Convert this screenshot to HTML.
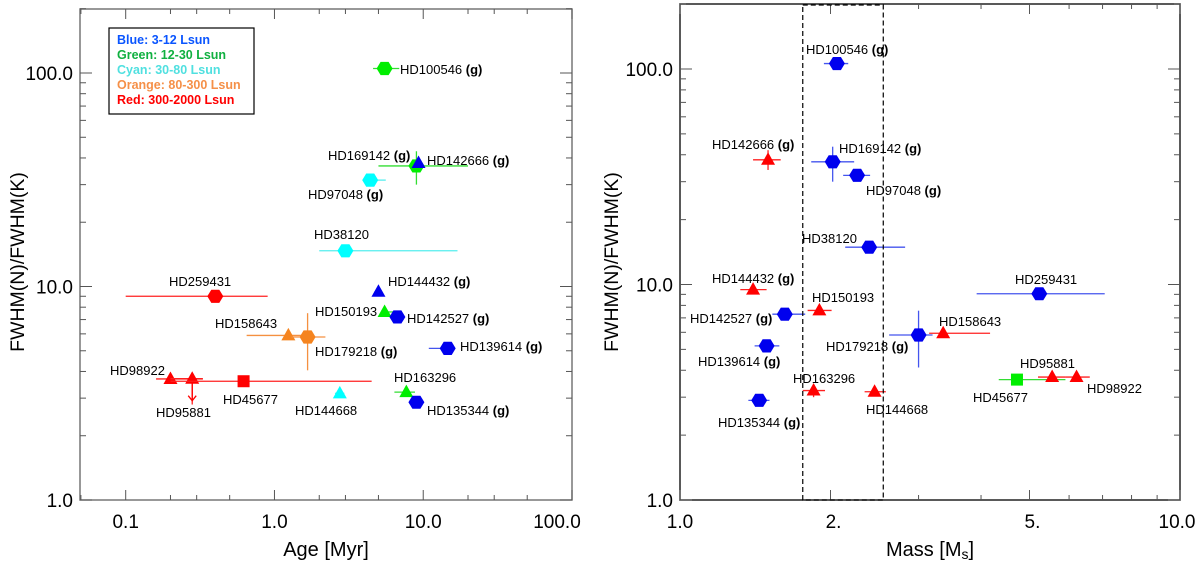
<!DOCTYPE html>
<html><head><meta charset="utf-8">
<style>
html,body{margin:0;padding:0;background:#fff;}
svg{display:block;font-family:"Liberation Sans",Arial,sans-serif;}
</style></head>
<body>
<svg id="chart" width="1200" height="585" viewBox="0 0 1200 585" xmlns="http://www.w3.org/2000/svg">
<g id="left"></g>
<g id="right"></g>
<g>
<rect x="109" y="28" width="145" height="86" fill="#fff" stroke="#000" stroke-width="1.2"/>
<g font-size="12.5" font-weight="bold">
<text x="117" y="44" fill="#0a55ff">Blue: 3-12 Lsun</text>
<text x="117" y="59" fill="#10b040">Green: 12-30 Lsun</text>
<text x="117" y="74" fill="#50e0e0">Cyan: 30-80 Lsun</text>
<text x="117" y="89" fill="#f59048">Orange: 80-300 Lsun</text>
<text x="117" y="104" fill="#ff0000">Red: 300-2000 Lsun</text>
</g></g>
</svg>
<script>
// ---- Left panel data (Age) ----
const leftNames = ["HD100546","HD169142","HD142666","HD97048","HD38120","HD259431","HD144432","HD150193","HD142527","HD158643","HD179218","HD139614","HD98922","HD95881","HD45677","HD144668","HD163296","HD135344"];
const leftAge = [5.5,9.0,9.3,4.4,3.0,0.40,5.0,5.5,6.7,1.24,1.67,14.6,0.20,0.28,0.62,2.75,7.7,9.0];
const leftAgeLo = [4.6,5.0,9.3,4.4,2.0,0.10,4.7,5.2,6.7,0.65,1.3,10.9,0.16,0.20,0.2,2.55,6.4,9.0];
const leftAgeHi = [6.9,20,9.3,5.6,17,0.90,5.2,6.4,6.7,1.55,2.2,14.6,0.33,0.33,4.5,2.95,8.8,9.0];
const leftRatio = [105,36.7,37.9,31.5,14.7,9.0,9.45,7.6,7.2,5.9,5.8,5.13,3.69,3.7,3.6,3.16,3.2,2.87];
const leftRatioLo = [105,30,37.9,31.5,14.7,9.0,9.45,7.6,7.2,5.9,4.05,5.13,3.69,2.8,3.6,3.16,3.2,2.87];
const leftRatioHi = [105,43,37.9,31.5,14.7,9.0,9.45,7.6,7.2,5.9,7.5,5.13,3.69,3.7,3.6,3.16,3.2,2.87];
const leftColor = ["green","green","blue","cyan","cyan","red","blue","green","blue","orange","orange","blue","red","red","red","cyan","green","blue"];
const leftShape = ["hex","hex","tri","hex","hex","hex","tri","tri","hex","tri","hex","hex","tri","tri","sq","tri","tri","hex"];
const leftGas = [1,1,1,1,0,0,1,0,1,0,1,1,0,0,0,0,0,1];
const leftLabelX = [400,328,427,308,314,169,388,315,407,215,315,460,110,156,223,295,394,427];
const leftLabelY = [69,155,160,194,234,281,281,311,318,323,351,346,370,412,399,410,377,410];
const leftXTicks = [0.1,1,10,100];
const leftXTickLabels = ["0.1","1.0","10.0","100.0"];
// ---- Right panel data (Mass) ----
const rightNames = ["HD100546","HD142666","HD169142","HD97048","HD38120","HD144432","HD259431","HD150193","HD142527","HD158643","HD179218","HD139614","HD45677","HD95881","HD98922","HD163296","HD144668","HD135344"];
const rightMass = [2.06,1.50,2.02,2.26,2.39,1.40,5.23,1.90,1.62,3.36,3.00,1.49,4.72,5.55,6.21,1.85,2.45,1.44];
const rightMassLo = [1.94,1.40,1.83,2.12,2.14,1.32,3.92,1.80,1.53,3.15,2.62,1.41,4.34,5.2,5.9,1.76,2.34,1.37];
const rightMassHi = [2.17,1.59,2.23,2.40,2.82,1.49,7.07,2.01,1.78,4.17,3.20,1.58,5.90,5.9,6.6,1.95,2.58,1.51];
const rightRatio = [106,37.9,37.1,32.1,14.9,9.47,9.06,7.58,7.28,5.94,5.83,5.19,3.62,3.72,3.72,3.22,3.18,2.9];
const rightRatioLo = [106,34,30,30.5,14.9,9.47,9.06,7.58,7.28,5.94,4.12,5.19,3.62,3.72,3.72,3.0,3.18,2.75];
const rightRatioHi = [106,42,43.6,33.5,14.9,9.47,9.06,7.58,7.28,5.94,7.56,5.19,3.62,3.72,3.72,3.4,3.18,3.0];
const rightColor = ["blue","red","blue","blue","blue","red","blue","red","blue","red","blue","blue","green","red","red","red","red","blue"];
const rightShape = ["hex","tri","hex","hex","hex","tri","hex","tri","hex","tri","hex","hex","sq","tri","tri","tri","tri","hex"];
const rightGas = [1,1,1,1,0,1,0,0,1,0,1,1,0,0,0,0,0,1];
const rightLabelX = [806,712,839,866,802,712,1015,812,690,939,826,698,973,1020,1087,793,866,718];
const rightLabelY = [49,144,148,190,238,278,279,297,318,321,346,361,397,363,388,378,409,422];
const rightXTicks = [1,2,5,10];
const rightXTickLabels = ["1.0","2.","5.","10.0"];
const yTicks = [1,10,100];
const yTickLabels = ["1.0","10.0","100.0"];
const boxMass = [1.76,2.55];

const NS="http://www.w3.org/2000/svg";
const COL={green:"#00ee00",blue:"#0000ee",cyan:"#00ffff",orange:"#f5841f",red:"#ff0000"};
const ECOL={green:"#33dd33",blue:"#4455ee",cyan:"#55eeee",orange:"#f59040",red:"#ff2020"};
function mk(parent,tag,attrs){const e=document.createElementNS(NS,tag);for(const k in attrs)e.setAttribute(k,attrs[k]);parent.appendChild(e);return e;}
function logScale(d0,d1,r0,r1){const a=Math.log10(d0),b=Math.log10(d1);return v=>r0+(Math.log10(v)-a)/(b-a)*(r1-r0);}

function panel(g,cfg){
  const {x0,x1,y0,y1,xs,ys}=cfg;
  const fr=mk(g,"rect",{x:x0,y:y0,width:x1-x0,height:y1-y0,fill:"none",stroke:cfg.frame,"stroke-width":1.5});
  
  
  const xMinD=Math.floor(Math.log10(cfg.xd[0])),xMaxD=Math.ceil(Math.log10(cfg.xd[1]));
  for(let d=xMinD;d<=xMaxD;d++)for(let m=1;m<10;m++){const v=m*Math.pow(10,d);if(v<cfg.xd[0]||v>cfg.xd[1])continue;
    if(cfg.xMinors.indexOf(m)<0)continue;
    const px=xs(v);const major=cfg.xTicks.some(t=>Math.abs(t-v)/v<1e-6);const L=major?10:5;
    mk(g,"line",{x1:px,y1:y1,x2:px,y2:y1-L,stroke:"#555","stroke-width":1});
    mk(g,"line",{x1:px,y1:y0,x2:px,y2:y0+L,stroke:"#555","stroke-width":1});}
  cfg.xTicks.forEach((t,i)=>{const tx=mk(g,"text",{x:xs(t)+(cfg.xLabOff[i]||0),y:y1+28,"font-size":19,"text-anchor":"middle",fill:"#000"});tx.textContent=cfg.xTickLabels[i];
    
    });
  for(let d=0;d<=2;d++)for(let m=1;m<10;m++){const v=m*Math.pow(10,d);if(v>cfg.yd[1])continue;
    const py=ys(v);const L=m===1?12:6;
    mk(g,"line",{x1:x0,y1:py,x2:x0+L,y2:py,stroke:"#555","stroke-width":1});
    mk(g,"line",{x1:x1,y1:py,x2:x1-L,y2:py,stroke:"#555","stroke-width":1});}
  yTicks.forEach((t,i)=>{const tx=mk(g,"text",{x:x0-7,y:ys(t)+7,"font-size":19,"text-anchor":"end",fill:"#000"});tx.textContent=yTickLabels[i];
    
    });
  const xt=mk(g,"text",{x:(x0+x1)/2,y:556,"font-size":20,"text-anchor":"middle",fill:"#000"});xt.innerHTML=cfg.xTitle;
  
  
  const yt=mk(g,"text",{x:0,y:0,"font-size":19.5,"text-anchor":"middle",fill:"#000",transform:`translate(${cfg.yTitleX},262) rotate(-90)`});yt.textContent="FWHM(N)/FWHM(K)";
  
  
  const D=cfg.data;
  D.names.forEach((n,i)=>{
    const pg=mk(g,"g",{});
    
    
    const px=xs(D.x[i]),py=ys(D.y[i]),c=D.color[i];
    mk(pg,"line",{x1:xs(D.xlo[i]),y1:py,x2:xs(D.xhi[i]),y2:py,stroke:ECOL[c],"stroke-width":1.3});
    mk(pg,"line",{x1:px,y1:ys(D.ylo[i]),x2:px,y2:ys(D.yhi[i]),stroke:ECOL[c],"stroke-width":1.3});
    if(cfg.arrow===n){const ay=py+22;mk(pg,"line",{x1:px,y1:py,x2:px,y2:ay,stroke:COL.red,"stroke-width":1.3});
      mk(pg,"polyline",{points:`${px-4},${ay-5} ${px},${ay} ${px+4},${ay-5}`,fill:"none",stroke:COL.red,"stroke-width":1.3});}
    const s=D.shape[i];
    if(s==="hex"){const r=8;let p=[];for(let k=0;k<6;k++){const a=Math.PI/3*k;p.push((px+r*Math.cos(a)).toFixed(1)+","+(py+r*Math.sin(a)*0.95).toFixed(1));}
      mk(pg,"polygon",{points:p.join(" "),fill:COL[c]});}
    else if(s==="tri"){mk(pg,"polygon",{points:`${px-7},${py+5} ${px+7},${py+5} ${px},${py-7.5}`,fill:COL[c]});}
    else{mk(pg,"rect",{x:px-6,y:py-6,width:12,height:12,fill:COL[c]});}
    const lt=mk(pg,"text",{x:D.lx[i],y:D.ly[i]+5,"font-size":13,fill:"#000"});
    lt.innerHTML=n+(D.gas[i]?' <tspan font-weight="bold">(g)</tspan>':'');
    
    
  });
}

const L=document.getElementById("left");
const lxd=[Math.pow(10,-1-45.7/148.8),100];
const lys=logScale(1,Math.pow(10,491/213.5),500,9);
panel(L,{x0:80,x1:572,y0:9,y1:500,xd:lxd,yd:[1,200],xs:logScale(lxd[0],lxd[1],80,572),ys:lys,frame:"#777",xMinors:[1,2,3,5],
  xTicks:leftXTicks,xTickLabels:leftXTickLabels,xLabOff:[0,0,0,-15],xTitle:"Age [Myr]",yTitleX:24,arrow:"HD95881",
  data:{names:leftNames,x:leftAge,xlo:leftAgeLo,xhi:leftAgeHi,y:leftRatio,ylo:leftRatioLo,yhi:leftRatioHi,color:leftColor,shape:leftShape,gas:leftGas,lx:leftLabelX,ly:leftLabelY}});

const R=document.getElementById("right");
const rxs=logScale(1,10,680,1180);
const rys=logScale(1,Math.pow(10,496/215.5),500,4);
panel(R,{x0:680,x1:1180,y0:4,y1:500,xd:[1,10],yd:[1,200],xs:rxs,ys:rys,frame:"#222",xMinors:[1,2,3,4,5,6,7,8,9],
  xTicks:rightXTicks,xTickLabels:rightXTickLabels,xLabOff:[0,3,3,-3],xTitle:'Mass [M<tspan font-size="14" dy="3">s</tspan><tspan dy="-3">]</tspan>',yTitleX:618,arrow:null,
  data:{names:rightNames,x:rightMass,xlo:rightMassLo,xhi:rightMassHi,y:rightRatio,ylo:rightRatioLo,yhi:rightRatioHi,color:rightColor,shape:rightShape,gas:rightGas,lx:rightLabelX,ly:rightLabelY}});
const box=mk(R,"rect",{x:rxs(boxMass[0]),y:5,width:rxs(boxMass[1])-rxs(boxMass[0]),height:495,fill:"none",stroke:"#000","stroke-width":1.2,"stroke-dasharray":"5,3"});


</script>
</body></html>
